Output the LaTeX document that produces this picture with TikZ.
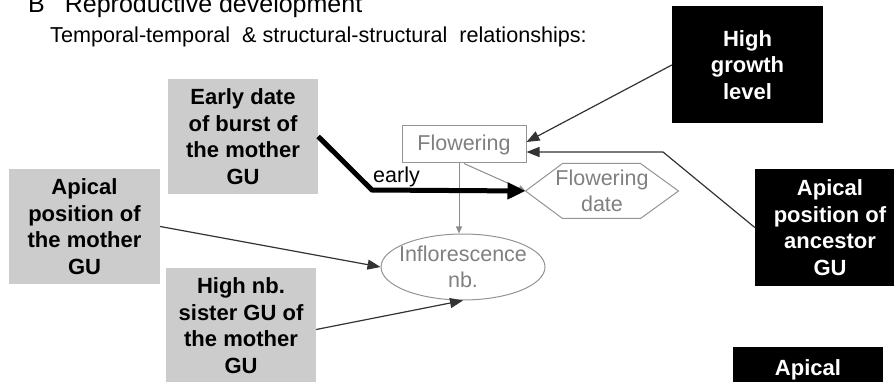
\documentclass[tikz,border=0pt]{standalone}
\usepackage{fontspec}
\setmainfont{Liberation Sans}
\usetikzlibrary{arrows.meta,shapes.geometric}
\tikzset{
	graybox/.style={fill=black!20, draw=none, minimum width=150pt, minimum height=115pt, inner sep=0pt, align=center, font=\fontsize{22pt}{26.5pt}\selectfont\bfseries},
	blackbox/.style={graybox, fill=black, text=white},
	varnode/.style={draw=black!42, line width=1pt, fill=white, text=black!50, inner sep=0pt, align=center, font=\fontsize{21.5pt}{26pt}\selectfont},
	hexline/.style={draw=black!42, line width=1pt},
	link/.style={line width=1.2pt, draw=black!80, -{Triangle[length=13pt,width=10pt]}},
	greylink/.style={line width=1pt, draw=black!45, -{Triangle[length=7pt,width=6pt]}},
	boldlink/.style={line width=5pt, draw=black, -{Triangle[length=18pt,width=16pt]}},
}

\begin{document}
\begin{tikzpicture}[x=1pt, y=-1pt]
		%%%%% START %%%%%
		\useasboundingbox (0,0) rectangle (894,382);
		
		\node[anchor=base west, inner sep=0pt, font=\fontsize{25pt}{30pt}\selectfont] (title) at (28,13) {B\hspace{20pt}Reproductive development};
		\node[anchor=base west, inner sep=0pt, font=\fontsize{21.6pt}{26pt}\selectfont] (subtitle) at (50,43) {Temporal-temporal~ \& structural-structural~ relationships:};
		
		\node[graybox] (early) at (243,136.5) {Early date\\of burst of\\the mother\\GU};
		\node[graybox, minimum width=151pt] (apmother) at (84.5,226.5) {Apical\\position of\\the mother\\GU};
		\node[graybox] (highnb) at (241,325.5) {High nb.\\sister GU of\\the mother\\GU};
		
		\node[blackbox, minimum width=151pt, minimum height=117pt] (growth) at (747.5,65) {High\\growth\\level};
		\node[blackbox, minimum height=117pt] (ancestor) at (830,227.5) {Apical\\position of\\ancestor\\GU};
		\node[blackbox, anchor=north, minimum height=0pt, inner ysep=12pt, text height=16pt, text depth=40pt] (apbottom) at (808,347) {Apical};
		
		\node[varnode, minimum width=124pt, minimum height=37pt] (flow) at (464,144.5) {Flowering};
		\node[varnode, draw=none, fill=none, minimum width=152pt, minimum height=54pt] (fdate) at (602,191) {Flowering\\date};
		\draw[hexline] (fdate.west) -- ([xshift=37pt]fdate.north west) -- ([xshift=-38pt]fdate.north east) -- (fdate.east) -- ([xshift=-38pt]fdate.south east) -- ([xshift=37pt]fdate.south west) -- cycle;
		\node[varnode, ellipse, inner xsep=-7pt, minimum width=164pt, minimum height=66pt] (infl) at (463,267) {Inflorescence\\nb.};
		
		\coordinate (kink) at (372,190);
		\coordinate (bend) at (663,152);
		
		\draw[greylink] ([xshift=-5pt]flow.south) -- ([xshift=-4pt]infl.north);
		\draw[greylink] (flow.south) -- (fdate.west);
		\draw[boldlink] (early.east) -- (kink) -- (fdate.west);
		\node[anchor=base west, inner sep=0pt, font=\fontsize{21.5pt}{26pt}\selectfont] (earlylab) at (373,183) {early};
		
		\draw[link] (growth.west) -- ([yshift=2.5pt]flow.east);
		\draw[link] (ancestor.west) -- (bend) -- ([yshift=-7.5pt]flow.east);
		\draw[link] (apmother.east) -- (infl.west);
		\draw[link] ([yshift=-4pt]highnb.east) -- (infl.south);
		
		%%%%% END %%%%%
	\end{tikzpicture}
\end{document}
